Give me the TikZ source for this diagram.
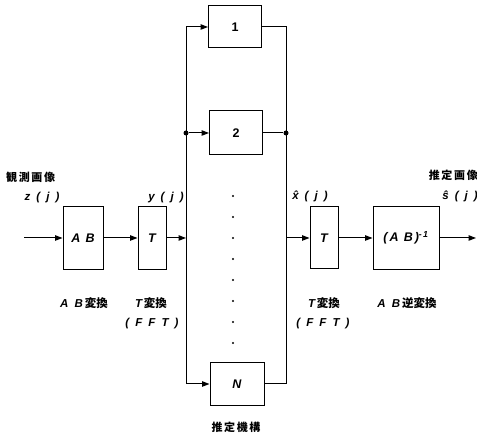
\documentclass[tikz,border=0pt]{standalone}
\usepackage{fontspec}
\setmainfont{Liberation Sans}
\newfontfamily\jp{Noto Sans CJK JP}
\usepackage{tikz}
\usetikzlibrary{arrows.meta,positioning}

\begin{document}
\begin{tikzpicture}[
x=1pt,y=-1pt,
font=\bfseries\itshape\fontsize{11.5}{13}\selectfont\addfontfeature{LetterSpace=25},
blk/.style={draw,line width=1pt,inner sep=0pt,font=\bfseries\itshape\fontsize{12.5}{14}\selectfont\addfontfeature{LetterSpace=15}},
lbl/.style={inner sep=1pt},
jlbl/.style={inner sep=1pt,font=\jp\bfseries\fontsize{11}{13}\selectfont\addfontfeature{LetterSpace=15}},
arrow/.style={-{Triangle[length=2.6mm,width=1.9mm]},line width=1pt},
wire/.style={line width=1pt},
dot/.style={circle,fill,inner sep=0pt,minimum size=5pt},
]
\useasboundingbox (0,0) rectangle (477,438);
% main chain
\coordinate (in) at (24,238);
\node[blk,minimum width=40pt,minimum height=63pt] (ab) at (83,238) {A B};
\node[blk,minimum width=28pt,minimum height=63pt] (tf) at (152,238) {T};
\node[blk,minimum width=28pt,minimum height=62pt] (ti) at (324,238) {T};
\node[blk,minimum width=66pt,minimum height=63pt] (abi) at (406,238) {(A B)\textsuperscript{-1}};
\coordinate (out) at (476,238);
% estimators
\node[blk,minimum width=53pt,minimum height=42pt,font=\bfseries\fontsize{12.5}{14}\selectfont] (e1) at (235,27) {1};
\node[blk,minimum width=53pt,minimum height=44pt,font=\bfseries\fontsize{12.5}{14}\selectfont] (e2) at (236,133) {2};
\node[blk,minimum width=54pt,minimum height=43pt] (eN) at (237,384) {N};
% buses
\coordinate (lt) at (186,27);
\coordinate (lb) at (186,384);
\node[dot] (l2) at (186,133) {};
\coordinate (lm) at (186,238);
\coordinate (rt) at (286,27);
\coordinate (rb) at (286,384);
\node[dot] (r2) at (286,133) {};
\coordinate (rm) at (286,238);
\foreach \yy in {196,217,238,259,280,301,322,343}
  \fill (233,\yy) circle (1.1pt);
% labels
\node[jlbl,anchor=west] (obs) at (5,177) {観測画像};
\node[lbl] (zj) at (42,198) {z ( j )};
\node[lbl] (yj) at (166,198) {y ( j )};
\node[lbl] (xj) at (310,196) {\^{x} ( j )};
\node[jlbl,anchor=east] (est) at (479,175) {推定画像};
\node[lbl,anchor=east] (sj) at (479,196) {\^{s} ( j )};
\node[lbl] (abl) at (84,303) {A B\,{\jp\upshape 変換}};
\node[lbl] (tl1) at (151,303) {T\,{\jp\upshape 変換}};
\node[lbl] (ff1) at (152,324) {( F F T )};
\node[lbl] (tl2) at (324,303) {T\,{\jp\upshape 変換}};
\node[lbl] (ff2) at (323,324) {( F F T )};
\node[lbl] (abil) at (407,303) {A B\,{\jp\upshape 逆変換}};
\node[jlbl] (mech) at (236,427) {推定機構};
% connections
\draw[arrow] (in) -- (ab);
\draw[arrow] (ab) -- (tf);
\draw[arrow] (tf) -- (lm);
\draw[wire] (lt) -- (lb);
\draw[arrow] (lt) -- (e1);
\draw[arrow] (l2) -- (e2);
\draw[arrow] (lb) -- (eN);
\draw[wire] (e1) -- (rt) -- (rb) -- (eN);
\draw[wire] (e2) -- (r2);
\draw[arrow] (rm) -- (ti);
\draw[arrow] (ti) -- (abi);
\draw[arrow] (abi) -- (out);
\end{tikzpicture}
\end{document}
